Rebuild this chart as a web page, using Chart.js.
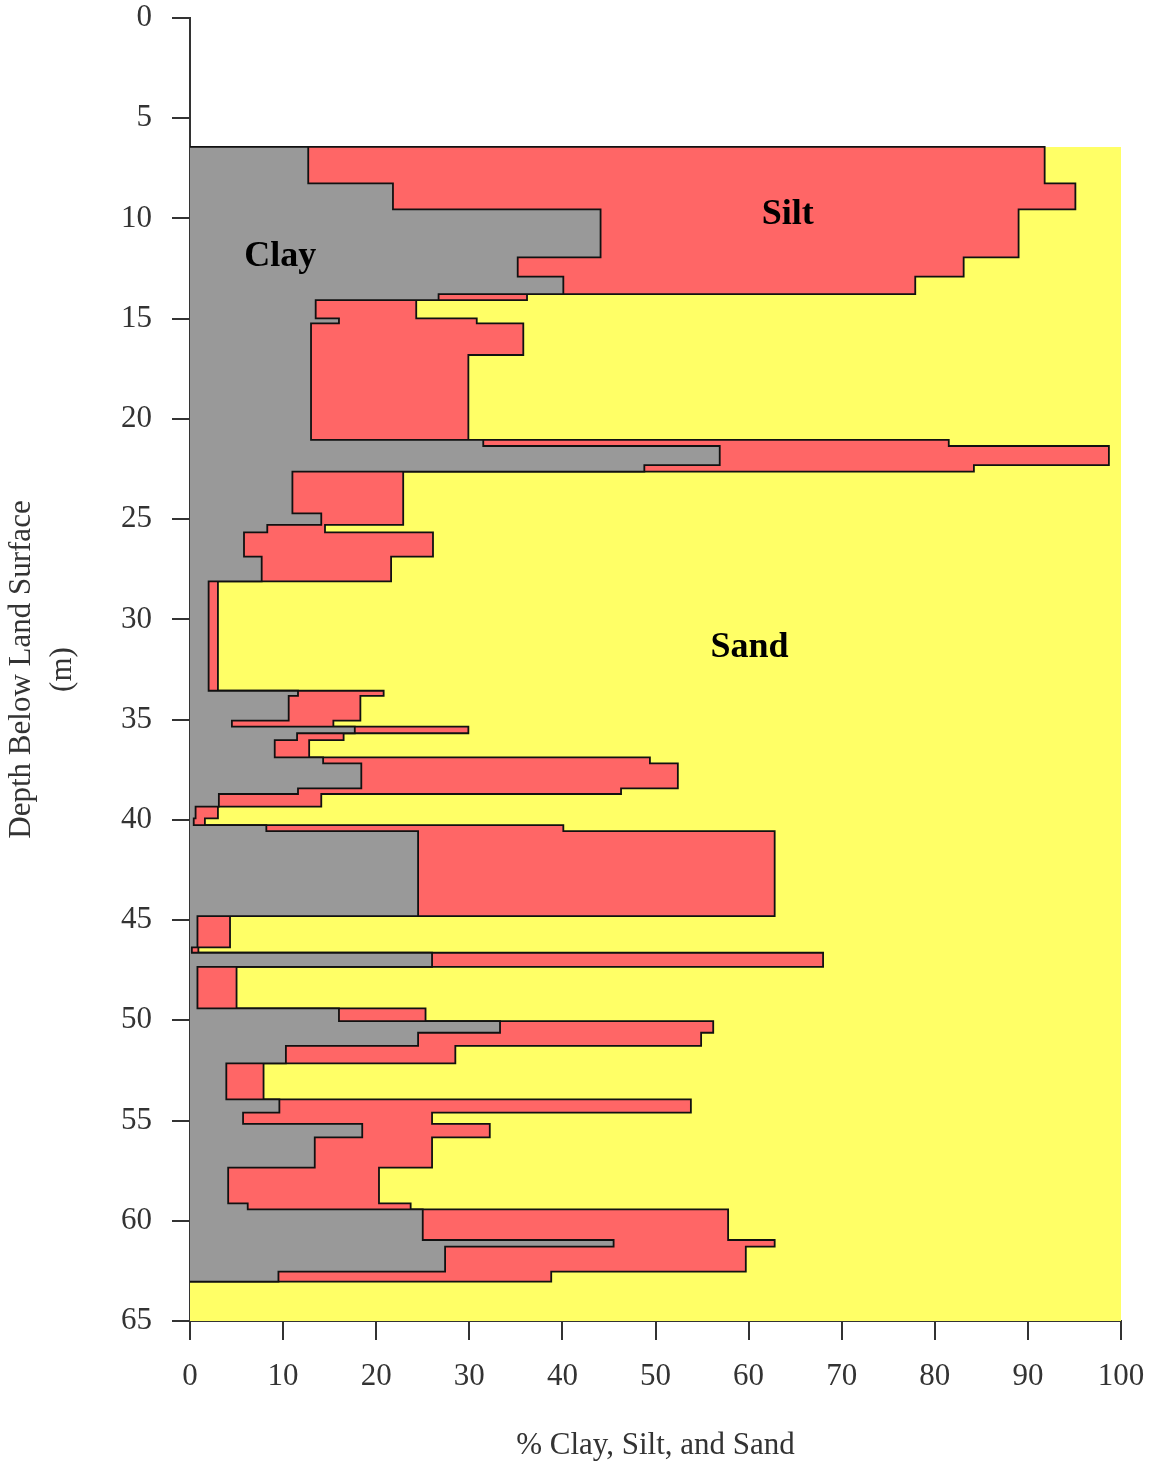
<!DOCTYPE html>
<html>
<head>
<meta charset="utf-8">
<title>Grain size profile</title>
<script src="https://cdn.jsdelivr.net/npm/chart.js@4.4.1/dist/chart.umd.min.js"></script>
<style>
  html, body { margin: 0; padding: 0; background: #fff; }
  #wrap { width: 1151px; height: 1464px; position: relative; }
</style>
</head>
<body>
<div id="wrap"><canvas id="profileChart"></canvas></div>
<script>
// interval boundaries (m below land surface)
const depthBounds = [6.43, 8.25, 9.55, 11.94, 12.90, 13.77, 14.07, 14.98, 15.23, 16.81,
  21.05, 21.35, 22.30, 22.63, 24.71, 25.29, 25.66, 26.87, 28.10, 33.56,
  33.82, 35.05, 35.35, 35.68, 36.02, 36.88, 37.18, 38.43, 38.71, 39.34,
  39.93, 40.26, 40.56, 44.80, 46.36, 46.63, 47.33, 49.40, 50.04, 50.62,
  51.28, 52.15, 53.94, 54.61, 55.17, 55.84, 57.35, 59.13, 59.43, 60.96,
  61.29, 62.54, 63.04];

// percent clay for each interval
const clayPct = [12.7, 21.8, 44.1, 35.2, 40.1, 26.7, 13.5, 16.0, 13.0, 13.0,
  31.5, 56.9, 48.8, 11.0, 14.1, 8.3, 5.8, 7.7, 2.0, 11.6,
  10.6, 4.5, 17.7, 11.5, 9.1, 14.3, 18.4, 11.6, 3.1, 0.6,
  0.4, 8.2, 24.5, 0.8, 0.2, 26.0, 0.8, 16.0, 33.3, 24.5,
  10.3, 3.9, 9.6, 5.7, 18.5, 13.4, 4.1, 6.2, 25.0, 45.5,
  27.4, 9.5];

// percent silt for each interval
const siltPct = [79.1, 73.3, 44.9, 47.9, 37.8, 9.5, 10.8, 14.8, 22.8, 16.9,
  50.0, 41.8, 35.4, 11.9, 8.8, 6.2, 20.3, 13.9, 1.0, 9.2,
  7.7, 10.9, 12.2, 5.0, 3.7, 35.1, 34.0, 34.7, 11.0, 2.4,
  1.2, 31.9, 38.3, 3.5, 0.7, 42.0, 4.2, 9.3, 22.9, 30.4,
  18.2, 4.0, 44.2, 20.3, 13.7, 12.6, 16.2, 17.5, 32.8, 17.3,
  32.3, 29.3];

const sandTop = 6.43;
const sandBottom = 65;

const xTicks = [0, 10, 20, 30, 40, 50, 60, 70, 80, 90, 100];
const yTicks = [0, 5, 10, 15, 20, 25, 30, 35, 40, 45, 50, 55, 60, 65];

const labelText = ['Clay', 'Silt', 'Sand'];
const labelPct = [9.7, 64.2, 60.1];
const labelDepth = [11.9, 9.8, 31.4];

// step outline: each interval becomes a vertical run at its value
function stepProfile(values) {
  const pts = [{x: 0, y: depthBounds[0]}];
  values.forEach((v, i) => {
    pts.push({x: v, y: depthBounds[i]});
    pts.push({x: v, y: depthBounds[i + 1]});
  });
  pts.push({x: 0, y: depthBounds[depthBounds.length - 1]});
  return pts;
}

const claySiltPct = clayPct.map((c, i) => c + siltPct[i]);

const serif = '"Liberation Serif", "DejaVu Serif", serif';

const labelPlugin = {
  id: 'fieldLabels',
  afterDatasetsDraw(chart) {
    const {ctx, scales} = chart;
    ctx.save();
    ctx.font = 'bold 36px ' + serif;
    ctx.fillStyle = '#000';
    ctx.textAlign = 'center';
    ctx.textBaseline = 'middle';
    labelText.forEach((t, i) => {
      ctx.fillText(t, scales.x.getPixelForValue(labelPct[i]), scales.y.getPixelForValue(labelDepth[i]));
    });
    ctx.restore();
  }
};

const ctx = document.getElementById('profileChart').getContext('2d');

new Chart(ctx, {
  type: 'line',
  data: {
    datasets: [
      {
        label: 'Clay',
        data: stepProfile(clayPct),
        backgroundColor: '#999999',
        borderColor: '#111',
        borderWidth: 1.8,
        fill: 'origin',
        pointRadius: 0
      },
      {
        label: 'Silt',
        data: stepProfile(claySiltPct),
        backgroundColor: '#ff6666',
        borderColor: '#111',
        borderWidth: 1.8,
        fill: 'origin',
        pointRadius: 0
      },
      {
        label: 'Sand',
        data: [{x: 100, y: sandTop}, {x: 100, y: sandBottom}],
        backgroundColor: '#ffff66',
        borderWidth: 0,
        fill: 'origin',
        pointRadius: 0
      }
    ]
  },
  options: {
    indexAxis: 'y',
    responsive: true,
    maintainAspectRatio: false,
    animation: false,
    devicePixelRatio: 1,
    layout: { padding: { top: 18, right: 30, left: 0, bottom: 0 } },
    plugins: {
      legend: { display: false },
      tooltip: { enabled: false }
    },
    scales: {
      x: {
        type: 'linear',
        position: 'bottom',
        min: 0,
        max: 100,
        afterBuildTicks: (scale) => { scale.ticks = xTicks.map(v => ({value: v})); },
        afterFit: (scale) => {
          scale.height = 143;
          scale.paddingLeft = 0;
          scale.paddingRight = 0;
        },
        grid: { drawOnChartArea: false, drawTicks: true, tickLength: 19, color: '#333', lineWidth: 2 },
        border: { display: true, color: '#333', width: 2 },
        ticks: { color: '#333', padding: 18, font: { family: serif, size: 31 } },
        title: {
          display: true,
          text: '% Clay, Silt, and Sand',
          color: '#333',
          font: { family: serif, size: 31 },
          padding: { top: 0, bottom: 0 }
        }
      },
      y: {
        type: 'linear',
        position: 'left',
        reverse: true,
        min: 0,
        max: 65,
        afterBuildTicks: (scale) => { scale.ticks = yTicks.map(v => ({value: v})); },
        afterFit: (scale) => {
          scale.width = 190;
          scale.paddingTop = 0;
          scale.paddingBottom = 0;
        },
        grid: { drawOnChartArea: false, drawTicks: true, tickLength: 18, color: '#333', lineWidth: 2 },
        border: { display: true, color: '#333', width: 2 },
        ticks: { color: '#333', padding: 20, font: { family: serif, size: 31 } },
        title: {
          display: true,
          text: ['Depth Below Land Surface', '(m)'],
          color: '#333',
          font: { family: serif, size: 31, lineHeight: 1.3 },
          padding: { top: 2, bottom: 0 }
        }
      }
    }
  },
  plugins: [labelPlugin]
});
</script>
</body>
</html>
